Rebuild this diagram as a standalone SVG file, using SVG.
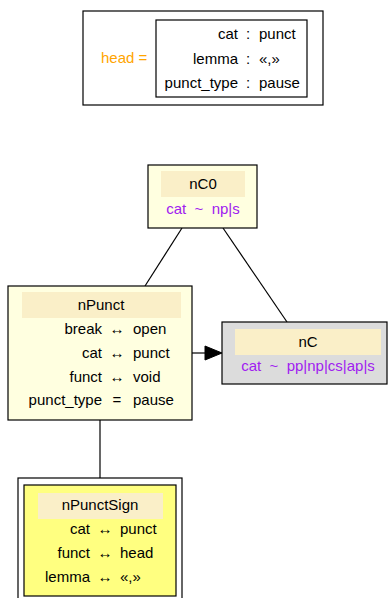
<svg xmlns="http://www.w3.org/2000/svg" width="388" height="598" viewBox="0 0 388 598">
<style>
text{font-family:"Liberation Sans",Arial,sans-serif;font-size:15px;fill:#000}
.k{text-anchor:end}
.m{text-anchor:middle}
.p{fill:#a020f0}
.box{stroke:#000;stroke-width:1.2}
.hdr{fill:#faefc8;stroke:none}
.e{stroke:#000;stroke-width:1.2;fill:none}
</style>
<g id="legend">
<rect x="83" y="11" width="240" height="94" fill="#fff" class="box"/>
<text x="101" y="63" style="fill:#ffa500">head =</text>
<rect x="156" y="20" width="151" height="77" fill="#fff" class="box"/>
<text x="238" y="39" class="k">cat</text><text x="248" y="39" class="m">:</text><text x="259" y="39">punct</text>
<text x="238" y="64" class="k">lemma</text><text x="248" y="64" class="m">:</text><text x="259" y="64">«,»</text>
<text x="238" y="88" class="k">punct_type</text><text x="248" y="88" class="m">:</text><text x="259" y="88">pause</text>
</g>
<g id="edges">
<line x1="182" y1="228" x2="145" y2="286" class="e"/>
<line x1="223" y1="228" x2="287" y2="322" class="e"/>
<line x1="192" y1="353" x2="206" y2="353" class="e"/>
<polygon points="205,346 222,353 205,360" fill="#000" stroke="#000"/>
<line x1="100" y1="420" x2="100" y2="478" class="e"/>
</g>
<g id="nC0">
<rect x="148" y="165" width="109" height="63" fill="#ffffe0" class="box"/>
<rect x="161" y="171" width="84" height="26" class="hdr"/>
<text x="203" y="189" class="m">nC0</text>
<text x="203" y="214" class="m p">cat&#160; ~&#160; np|s</text>
</g>
<g id="nPunct">
<rect x="8" y="286" width="184" height="134" fill="#ffffe0" class="box"/>
<rect x="22" y="292" width="159" height="26" class="hdr"/>
<text x="101" y="310" class="m">nPunct</text>
<text x="102" y="334" class="k">break</text><text x="117" y="334" class="m">↔</text><text x="133" y="334">open</text>
<text x="102" y="358" class="k">cat</text><text x="117" y="358" class="m">↔</text><text x="133" y="358">punct</text>
<text x="102" y="382" class="k">funct</text><text x="117" y="382" class="m">↔</text><text x="133" y="382">void</text>
<text x="102" y="405" class="k">punct_type</text><text x="117" y="405" class="m">=</text><text x="133" y="405">pause</text>
</g>
<g id="nC">
<rect x="222" y="322" width="165" height="62" fill="#dcdcdc" class="box"/>
<rect x="235" y="329" width="146" height="26" class="hdr"/>
<text x="308" y="347" class="m">nC</text>
<text x="308" y="371" class="m p">cat&#160; ~&#160; pp|np|cs|ap|s</text>
</g>
<g id="nPunctSign">
<rect x="18" y="478" width="164" height="130" fill="#fff" class="box"/>
<rect x="24" y="485" width="152" height="111" fill="#ffff80" class="box"/>
<rect x="38" y="493" width="125" height="26" class="hdr"/>
<text x="100" y="510" class="m">nPunctSign</text>
<text x="90" y="534" class="k">cat</text><text x="105" y="534" class="m">↔</text><text x="120" y="534">punct</text>
<text x="90" y="558" class="k">funct</text><text x="105" y="558" class="m">↔</text><text x="120" y="558">head</text>
<text x="90" y="582" class="k">lemma</text><text x="105" y="582" class="m">↔</text><text x="120" y="582">«,»</text>
</g>
</svg>
